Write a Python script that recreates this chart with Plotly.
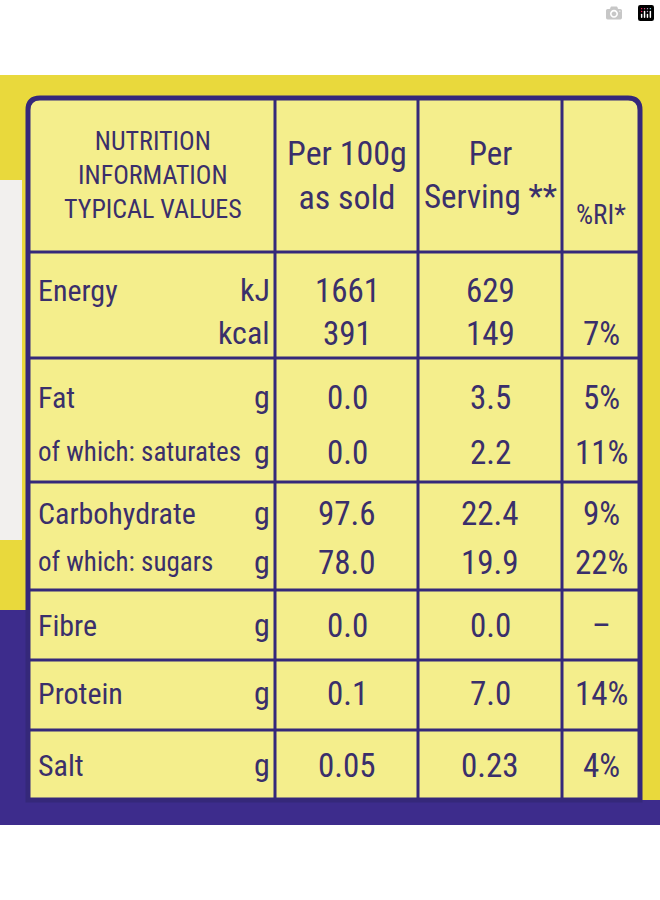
import plotly.graph_objects as go

FONT = "Liberation Sans Narrow, Roboto Condensed, Arial Narrow, Roboto, sans-serif"
INK = "#3a2f6b"
BORDER = "#35287a"
CELL = "#f4ee8c"
BG = "#e9d93c"

headers = ["NUTRITION<br>INFORMATION<br>TYPICAL VALUES", "Per 100g<br>as sold", "Per<br>Serving **", "%RI*"]
nutrients = [["Energy", ""], ["Fat", "of which: saturates"], ["Carbohydrate", "of which: sugars"], ["Fibre"], ["Protein"], ["Salt"]]
units = [["kJ", "kcal"], ["g", "g"], ["g", "g"], ["g"], ["g"], ["g"]]
per100 = [["1661", "391"], ["0.0", "0.0"], ["97.6", "78.0"], ["0.0"], ["0.1"], ["0.05"]]
serving = [["629", "149"], ["3.5", "2.2"], ["22.4", "19.9"], ["0.0"], ["7.0"], ["0.23"]]
ri = [["", "7%"], ["5%", "11%"], ["9%", "22%"], ["–"], ["14%"], ["4%"]]

col_edges = [28, 275, 418, 562, 640]
row_edges = [98, 252, 358, 482, 590, 660, 730, 800]
line_y = [[290, 333], [397, 452], [513, 562], [625], [693], [765]]

shapes = [
    dict(type="rect", x0=0, x1=660, y0=75, y1=825, fillcolor=BG, line_width=0, layer="below"),
    dict(type="rect", x0=0, x1=660, y0=800, y1=825, fillcolor="#3d2c8c", line_width=0, layer="below"),
    dict(type="rect", x0=0, x1=28, y0=610, y1=800, fillcolor="#3d2c8c", line_width=0, layer="below"),
    dict(type="rect", x0=0, x1=22, y0=180, y1=540, fillcolor="#f2f0ee", line_width=0, layer="below"),
    dict(type="path", path="M 40,98 L 628,98 Q 640,98 640,110 L 640,800 L 28,800 L 28,110 Q 28,98 40,98 Z",
         fillcolor=CELL, line=dict(color=BORDER, width=5), layer="below"),
]
for x in col_edges[1:-1]:
    shapes.append(dict(type="line", x0=x, x1=x, y0=row_edges[0], y1=row_edges[-1], line=dict(color=BORDER, width=3)))
for y in row_edges[1:-1]:
    shapes.append(dict(type="line", x0=col_edges[0], x1=col_edges[-1], y0=y, y1=y, line=dict(color=BORDER, width=3)))

ann = []
def t(x, y, s, size=32, anchor="center"):
    ann.append(dict(x=x, y=y, text=s, showarrow=False, xanchor=anchor, yanchor="middle",
                    font=dict(family=FONT, size=size, color=INK)))

hy = (row_edges[0] + row_edges[1]) / 2
t(153, hy, headers[0], 26)
t(347, hy, headers[1], 34)
t(490, hy, headers[2], 33)
t(601, 215, headers[3], 27)
for i in range(len(nutrients)):
    for j, y in enumerate(line_y[i]):
        if nutrients[i][j]:
            t(36, y, nutrients[i][j], 27 if j else 30, "left")
        t(272, y, units[i][j], 32, "right")
        t(347, y, per100[i][j], 33)
        t(490, y, serving[i][j], 33)
        if ri[i][j]:
            t(601, y, ri[i][j], 33)

fig = go.Figure()
fig.update_layout(width=660, height=900, margin=dict(l=0, r=0, t=0, b=0),
                  paper_bgcolor="white", plot_bgcolor="white", shapes=shapes, annotations=ann,
                  xaxis=dict(range=[0, 660], visible=False, fixedrange=True),
                  yaxis=dict(range=[900, 0], visible=False, fixedrange=True), showlegend=False)
fig.write_html("out.html", post_script="document.body.style.margin='0';")
